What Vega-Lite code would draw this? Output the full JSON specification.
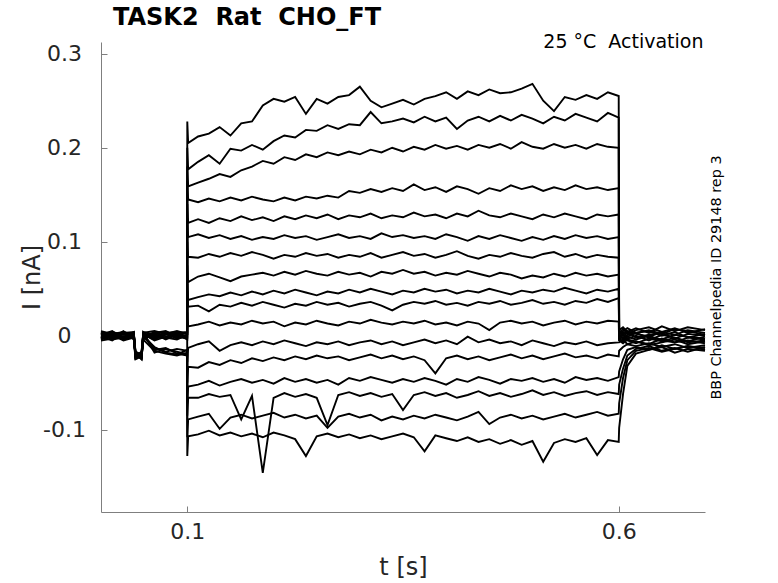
{
  "$schema": "https://vega.github.io/schema/vega-lite/v6.json",
  "width": 604,
  "height": 470,
  "autosize": "none",
  "padding": {"left": 101, "top": 42, "right": 73, "bottom": 71},
  "background": "white",
  "title": {
    "text": "TASK2\u00a0\u00a0Rat\u00a0\u00a0CHO_FT",
    "frame": "group",
    "anchor": "start",
    "dx": 12,
    "offset": 2,
    "fontSize": 24,
    "fontWeight": "bold",
    "font": "DejaVu Sans",
    "color": "black"
  },
  "config": {
    "view": {"stroke": null},
    "font": "DejaVu Sans",
    "axis": {
      "grid": false,
      "domainColor": "#7f7f7f",
      "tickColor": "#7f7f7f",
      "labelColor": "#262626",
      "titleColor": "#262626",
      "labelFont": "DejaVu Sans",
      "titleFont": "DejaVu Sans",
      "titleFontWeight": "normal"
    }
  },
  "data": {
    "values": [
      {"k":1,"t":0,"v":0.002},{"k":1,"t":0.013,"v":-0.003},{"k":1,"t":0.026,"v":0.004},{"k":1,"t":0.038,"v":0.001},{"k":1,"t":0.04,"v":-0.019},{"k":1,"t":0.047,"v":-0.022},{"k":1,"t":0.049,"v":0.003},{"k":1,"t":0.062,"v":-0.002},{"k":1,"t":0.075,"v":0.004},{"k":1,"t":0.088,"v":0.001},{"k":1,"t":0.0999,"v":0.003},
      {"k":1,"t":0.1,"v":0.228},{"k":1,"t":0.101,"v":0.205},
      {"k":1,"t":0.1125,"v":0.212},{"k":1,"t":0.125,"v":0.215},{"k":1,"t":0.1375,"v":0.222},{"k":1,"t":0.15,"v":0.213},{"k":1,"t":0.1625,"v":0.226},{"k":1,"t":0.175,"v":0.228},{"k":1,"t":0.1875,"v":0.245},{"k":1,"t":0.2,"v":0.252},{"k":1,"t":0.2125,"v":0.249},{"k":1,"t":0.225,"v":0.254},{"k":1,"t":0.2375,"v":0.236},{"k":1,"t":0.25,"v":0.252},{"k":1,"t":0.2625,"v":0.247},{"k":1,"t":0.275,"v":0.254},{"k":1,"t":0.2875,"v":0.256},{"k":1,"t":0.3,"v":0.265},{"k":1,"t":0.3125,"v":0.25},{"k":1,"t":0.325,"v":0.243},{"k":1,"t":0.3375,"v":0.247},{"k":1,"t":0.35,"v":0.251},{"k":1,"t":0.3625,"v":0.246},{"k":1,"t":0.375,"v":0.252},{"k":1,"t":0.3875,"v":0.255},{"k":1,"t":0.4,"v":0.259},{"k":1,"t":0.4125,"v":0.252},{"k":1,"t":0.425,"v":0.26},{"k":1,"t":0.4375,"v":0.256},{"k":1,"t":0.45,"v":0.262},{"k":1,"t":0.4625,"v":0.258},{"k":1,"t":0.475,"v":0.259},{"k":1,"t":0.4875,"v":0.263},{"k":1,"t":0.5,"v":0.268},{"k":1,"t":0.5125,"v":0.25},{"k":1,"t":0.525,"v":0.239},{"k":1,"t":0.5375,"v":0.254},{"k":1,"t":0.55,"v":0.251},{"k":1,"t":0.5625,"v":0.256},{"k":1,"t":0.575,"v":0.252},{"k":1,"t":0.5875,"v":0.259},{"k":1,"t":0.6,"v":0.255},
      {"k":1,"t":0.6005,"v":0.006},{"k":1,"t":0.605,"v":0.009},{"k":1,"t":0.61,"v":0.004},{"k":1,"t":0.62,"v":0.008},{"k":1,"t":0.635,"v":0.003},{"k":1,"t":0.65,"v":0.01},{"k":1,"t":0.665,"v":0.005},{"k":1,"t":0.68,"v":0.009},{"k":1,"t":0.7,"v":0.006},

      {"k":2,"t":0,"v":-0.002},{"k":2,"t":0.013,"v":0.003},{"k":2,"t":0.026,"v":-0.004},{"k":2,"t":0.038,"v":0.002},{"k":2,"t":0.04,"v":-0.023},{"k":2,"t":0.047,"v":-0.018},{"k":2,"t":0.049,"v":-0.001},{"k":2,"t":0.062,"v":0.004},{"k":2,"t":0.075,"v":-0.003},{"k":2,"t":0.088,"v":0.002},{"k":2,"t":0.0999,"v":-0.001},
      {"k":2,"t":0.1,"v":0.2},{"k":2,"t":0.101,"v":0.177},
      {"k":2,"t":0.1125,"v":0.185},{"k":2,"t":0.125,"v":0.192},{"k":2,"t":0.1375,"v":0.183},{"k":2,"t":0.15,"v":0.199},{"k":2,"t":0.1625,"v":0.197},{"k":2,"t":0.175,"v":0.203},{"k":2,"t":0.1875,"v":0.198},{"k":2,"t":0.2,"v":0.207},{"k":2,"t":0.2125,"v":0.213},{"k":2,"t":0.225,"v":0.211},{"k":2,"t":0.2375,"v":0.219},{"k":2,"t":0.25,"v":0.218},{"k":2,"t":0.2625,"v":0.224},{"k":2,"t":0.275,"v":0.22},{"k":2,"t":0.2875,"v":0.225},{"k":2,"t":0.3,"v":0.224},{"k":2,"t":0.3125,"v":0.238},{"k":2,"t":0.325,"v":0.226},{"k":2,"t":0.3375,"v":0.228},{"k":2,"t":0.35,"v":0.231},{"k":2,"t":0.3625,"v":0.227},{"k":2,"t":0.375,"v":0.233},{"k":2,"t":0.3875,"v":0.228},{"k":2,"t":0.4,"v":0.232},{"k":2,"t":0.4125,"v":0.22},{"k":2,"t":0.425,"v":0.229},{"k":2,"t":0.4375,"v":0.233},{"k":2,"t":0.45,"v":0.228},{"k":2,"t":0.4625,"v":0.234},{"k":2,"t":0.475,"v":0.229},{"k":2,"t":0.4875,"v":0.235},{"k":2,"t":0.5,"v":0.231},{"k":2,"t":0.5125,"v":0.226},{"k":2,"t":0.525,"v":0.233},{"k":2,"t":0.5375,"v":0.229},{"k":2,"t":0.55,"v":0.236},{"k":2,"t":0.5625,"v":0.232},{"k":2,"t":0.575,"v":0.228},{"k":2,"t":0.5875,"v":0.237},{"k":2,"t":0.6,"v":0.232},
      {"k":2,"t":0.6005,"v":0.003},{"k":2,"t":0.605,"v":0.007},{"k":2,"t":0.61,"v":0.002},{"k":2,"t":0.62,"v":0.006},{"k":2,"t":0.635,"v":0.009},{"k":2,"t":0.65,"v":0.004},{"k":2,"t":0.665,"v":0.008},{"k":2,"t":0.68,"v":0.003},{"k":2,"t":0.7,"v":0.007},

      {"k":3,"t":0,"v":0.004},{"k":3,"t":0.013,"v":-0.001},{"k":3,"t":0.026,"v":0.002},{"k":3,"t":0.038,"v":-0.003},{"k":3,"t":0.04,"v":-0.021},{"k":3,"t":0.047,"v":-0.024},{"k":3,"t":0.049,"v":0.001},{"k":3,"t":0.062,"v":-0.004},{"k":3,"t":0.075,"v":0.002},{"k":3,"t":0.088,"v":0.005},{"k":3,"t":0.0999,"v":0.002},
      {"k":3,"t":0.1,"v":0.18},{"k":3,"t":0.101,"v":0.159},
      {"k":3,"t":0.1125,"v":0.163},{"k":3,"t":0.125,"v":0.167},{"k":3,"t":0.1375,"v":0.172},{"k":3,"t":0.15,"v":0.169},{"k":3,"t":0.1625,"v":0.176},{"k":3,"t":0.175,"v":0.18},{"k":3,"t":0.1875,"v":0.186},{"k":3,"t":0.2,"v":0.183},{"k":3,"t":0.2125,"v":0.19},{"k":3,"t":0.225,"v":0.187},{"k":3,"t":0.2375,"v":0.193},{"k":3,"t":0.25,"v":0.19},{"k":3,"t":0.2625,"v":0.195},{"k":3,"t":0.275,"v":0.192},{"k":3,"t":0.2875,"v":0.196},{"k":3,"t":0.3,"v":0.193},{"k":3,"t":0.3125,"v":0.198},{"k":3,"t":0.325,"v":0.195},{"k":3,"t":0.3375,"v":0.2},{"k":3,"t":0.35,"v":0.196},{"k":3,"t":0.3625,"v":0.201},{"k":3,"t":0.375,"v":0.198},{"k":3,"t":0.3875,"v":0.203},{"k":3,"t":0.4,"v":0.199},{"k":3,"t":0.4125,"v":0.202},{"k":3,"t":0.425,"v":0.198},{"k":3,"t":0.4375,"v":0.203},{"k":3,"t":0.45,"v":0.2},{"k":3,"t":0.4625,"v":0.204},{"k":3,"t":0.475,"v":0.199},{"k":3,"t":0.4875,"v":0.206},{"k":3,"t":0.5,"v":0.201},{"k":3,"t":0.5125,"v":0.199},{"k":3,"t":0.525,"v":0.204},{"k":3,"t":0.5375,"v":0.2},{"k":3,"t":0.55,"v":0.203},{"k":3,"t":0.5625,"v":0.199},{"k":3,"t":0.575,"v":0.204},{"k":3,"t":0.5875,"v":0.201},{"k":3,"t":0.6,"v":0.2},
      {"k":3,"t":0.6005,"v":0.002},{"k":3,"t":0.605,"v":0.005},{"k":3,"t":0.61,"v":0.008},{"k":3,"t":0.62,"v":0.003},{"k":3,"t":0.635,"v":0.006},{"k":3,"t":0.65,"v":0.002},{"k":3,"t":0.665,"v":0.007},{"k":3,"t":0.68,"v":0.005},{"k":3,"t":0.7,"v":0.001},

      {"k":4,"t":0,"v":-0.004},{"k":4,"t":0.013,"v":0.001},{"k":4,"t":0.026,"v":-0.002},{"k":4,"t":0.038,"v":0.003},{"k":4,"t":0.04,"v":-0.017},{"k":4,"t":0.047,"v":-0.02},{"k":4,"t":0.049,"v":0.004},{"k":4,"t":0.062,"v":0.001},{"k":4,"t":0.075,"v":-0.002},{"k":4,"t":0.088,"v":-0.004},{"k":4,"t":0.0999,"v":0.001},
      {"k":4,"t":0.1,"v":0.165},{"k":4,"t":0.101,"v":0.145},
      {"k":4,"t":0.1125,"v":0.142},{"k":4,"t":0.125,"v":0.146},{"k":4,"t":0.1375,"v":0.143},{"k":4,"t":0.15,"v":0.147},{"k":4,"t":0.1625,"v":0.144},{"k":4,"t":0.175,"v":0.148},{"k":4,"t":0.1875,"v":0.145},{"k":4,"t":0.2,"v":0.143},{"k":4,"t":0.2125,"v":0.147},{"k":4,"t":0.225,"v":0.144},{"k":4,"t":0.2375,"v":0.148},{"k":4,"t":0.25,"v":0.146},{"k":4,"t":0.2625,"v":0.149},{"k":4,"t":0.275,"v":0.147},{"k":4,"t":0.2875,"v":0.154},{"k":4,"t":0.3,"v":0.152},{"k":4,"t":0.3125,"v":0.156},{"k":4,"t":0.325,"v":0.153},{"k":4,"t":0.3375,"v":0.157},{"k":4,"t":0.35,"v":0.154},{"k":4,"t":0.3625,"v":0.161},{"k":4,"t":0.375,"v":0.155},{"k":4,"t":0.3875,"v":0.158},{"k":4,"t":0.4,"v":0.153},{"k":4,"t":0.4125,"v":0.159},{"k":4,"t":0.425,"v":0.156},{"k":4,"t":0.4375,"v":0.151},{"k":4,"t":0.45,"v":0.157},{"k":4,"t":0.4625,"v":0.154},{"k":4,"t":0.475,"v":0.16},{"k":4,"t":0.4875,"v":0.156},{"k":4,"t":0.5,"v":0.159},{"k":4,"t":0.5125,"v":0.154},{"k":4,"t":0.525,"v":0.158},{"k":4,"t":0.5375,"v":0.155},{"k":4,"t":0.55,"v":0.16},{"k":4,"t":0.5625,"v":0.156},{"k":4,"t":0.575,"v":0.158},{"k":4,"t":0.5875,"v":0.155},{"k":4,"t":0.6,"v":0.157},
      {"k":4,"t":0.6005,"v":0.004},{"k":4,"t":0.605,"v":0.001},{"k":4,"t":0.61,"v":0.005},{"k":4,"t":0.62,"v":0.002},{"k":4,"t":0.635,"v":-0.001},{"k":4,"t":0.65,"v":0.004},{"k":4,"t":0.665,"v":0.001},{"k":4,"t":0.68,"v":0.006},{"k":4,"t":0.7,"v":0.003},

      {"k":5,"t":0,"v":0.001},{"k":5,"t":0.013,"v":0.005},{"k":5,"t":0.026,"v":-0.003},{"k":5,"t":0.038,"v":-0.001},{"k":5,"t":0.04,"v":-0.024},{"k":5,"t":0.047,"v":-0.021},{"k":5,"t":0.049,"v":-0.003},{"k":5,"t":0.062,"v":0.003},{"k":5,"t":0.075,"v":0.005},{"k":5,"t":0.088,"v":-0.001},{"k":5,"t":0.0999,"v":-0.003},
      {"k":5,"t":0.1,"v":0.14},{"k":5,"t":0.101,"v":0.12},
      {"k":5,"t":0.1125,"v":0.124},{"k":5,"t":0.125,"v":0.12},{"k":5,"t":0.1375,"v":0.125},{"k":5,"t":0.15,"v":0.122},{"k":5,"t":0.1625,"v":0.127},{"k":5,"t":0.175,"v":0.123},{"k":5,"t":0.1875,"v":0.126},{"k":5,"t":0.2,"v":0.122},{"k":5,"t":0.2125,"v":0.127},{"k":5,"t":0.225,"v":0.124},{"k":5,"t":0.2375,"v":0.128},{"k":5,"t":0.25,"v":0.125},{"k":5,"t":0.2625,"v":0.129},{"k":5,"t":0.275,"v":0.124},{"k":5,"t":0.2875,"v":0.128},{"k":5,"t":0.3,"v":0.126},{"k":5,"t":0.3125,"v":0.13},{"k":5,"t":0.325,"v":0.125},{"k":5,"t":0.3375,"v":0.128},{"k":5,"t":0.35,"v":0.126},{"k":5,"t":0.3625,"v":0.131},{"k":5,"t":0.375,"v":0.127},{"k":5,"t":0.3875,"v":0.129},{"k":5,"t":0.4,"v":0.125},{"k":5,"t":0.4125,"v":0.13},{"k":5,"t":0.425,"v":0.127},{"k":5,"t":0.4375,"v":0.133},{"k":5,"t":0.45,"v":0.128},{"k":5,"t":0.4625,"v":0.126},{"k":5,"t":0.475,"v":0.13},{"k":5,"t":0.4875,"v":0.127},{"k":5,"t":0.5,"v":0.124},{"k":5,"t":0.5125,"v":0.129},{"k":5,"t":0.525,"v":0.126},{"k":5,"t":0.5375,"v":0.13},{"k":5,"t":0.55,"v":0.127},{"k":5,"t":0.5625,"v":0.124},{"k":5,"t":0.575,"v":0.129},{"k":5,"t":0.5875,"v":0.127},{"k":5,"t":0.6,"v":0.129},
      {"k":5,"t":0.6005,"v":0.001},{"k":5,"t":0.605,"v":0.004},{"k":5,"t":0.61,"v":-0.001},{"k":5,"t":0.62,"v":0.003},{"k":5,"t":0.635,"v":0.005},{"k":5,"t":0.65,"v":0},{"k":5,"t":0.665,"v":0.004},{"k":5,"t":0.68,"v":-0.002},{"k":5,"t":0.7,"v":0.002},

      {"k":6,"t":0,"v":-0.001},{"k":6,"t":0.013,"v":-0.005},{"k":6,"t":0.026,"v":0.003},{"k":6,"t":0.038,"v":0.004},{"k":6,"t":0.04,"v":-0.02},{"k":6,"t":0.047,"v":-0.025},{"k":6,"t":0.049,"v":0.002},{"k":6,"t":0.062,"v":-0.003},{"k":6,"t":0.075,"v":0.001},{"k":6,"t":0.088,"v":0.003},{"k":6,"t":0.0999,"v":0.004},
      {"k":6,"t":0.1,"v":0.125},{"k":6,"t":0.101,"v":0.105},
      {"k":6,"t":0.1125,"v":0.108},{"k":6,"t":0.125,"v":0.104},{"k":6,"t":0.1375,"v":0.107},{"k":6,"t":0.15,"v":0.103},{"k":6,"t":0.1625,"v":0.106},{"k":6,"t":0.175,"v":0.102},{"k":6,"t":0.1875,"v":0.105},{"k":6,"t":0.2,"v":0.103},{"k":6,"t":0.2125,"v":0.107},{"k":6,"t":0.225,"v":0.104},{"k":6,"t":0.2375,"v":0.106},{"k":6,"t":0.25,"v":0.102},{"k":6,"t":0.2625,"v":0.105},{"k":6,"t":0.275,"v":0.108},{"k":6,"t":0.2875,"v":0.104},{"k":6,"t":0.3,"v":0.106},{"k":6,"t":0.3125,"v":0.103},{"k":6,"t":0.325,"v":0.109},{"k":6,"t":0.3375,"v":0.105},{"k":6,"t":0.35,"v":0.107},{"k":6,"t":0.3625,"v":0.104},{"k":6,"t":0.375,"v":0.106},{"k":6,"t":0.3875,"v":0.103},{"k":6,"t":0.4,"v":0.108},{"k":6,"t":0.4125,"v":0.105},{"k":6,"t":0.425,"v":0.101},{"k":6,"t":0.4375,"v":0.106},{"k":6,"t":0.45,"v":0.103},{"k":6,"t":0.4625,"v":0.107},{"k":6,"t":0.475,"v":0.104},{"k":6,"t":0.4875,"v":0.101},{"k":6,"t":0.5,"v":0.105},{"k":6,"t":0.5125,"v":0.102},{"k":6,"t":0.525,"v":0.106},{"k":6,"t":0.5375,"v":0.103},{"k":6,"t":0.55,"v":0.107},{"k":6,"t":0.5625,"v":0.104},{"k":6,"t":0.575,"v":0.106},{"k":6,"t":0.5875,"v":0.103},{"k":6,"t":0.6,"v":0.105},
      {"k":6,"t":0.6005,"v":-0.001},{"k":6,"t":0.605,"v":0.002},{"k":6,"t":0.61,"v":0.004},{"k":6,"t":0.62,"v":-0.002},{"k":6,"t":0.635,"v":0.001},{"k":6,"t":0.65,"v":0.003},{"k":6,"t":0.665,"v":-0.003},{"k":6,"t":0.68,"v":0.002},{"k":6,"t":0.7,"v":0},

      {"k":7,"t":0,"v":0.003},{"k":7,"t":0.013,"v":0.001},{"k":7,"t":0.026,"v":-0.005},{"k":7,"t":0.038,"v":-0.002},{"k":7,"t":0.04,"v":-0.022},{"k":7,"t":0.047,"v":-0.019},{"k":7,"t":0.049,"v":-0.004},{"k":7,"t":0.062,"v":0.002},{"k":7,"t":0.075,"v":-0.004},{"k":7,"t":0.088,"v":0.001},{"k":7,"t":0.0999,"v":-0.002},
      {"k":7,"t":0.1,"v":0.1},{"k":7,"t":0.101,"v":0.084},
      {"k":7,"t":0.1125,"v":0.083},{"k":7,"t":0.125,"v":0.087},{"k":7,"t":0.1375,"v":0.084},{"k":7,"t":0.15,"v":0.088},{"k":7,"t":0.1625,"v":0.085},{"k":7,"t":0.175,"v":0.089},{"k":7,"t":0.1875,"v":0.086},{"k":7,"t":0.2,"v":0.082},{"k":7,"t":0.2125,"v":0.086},{"k":7,"t":0.225,"v":0.084},{"k":7,"t":0.2375,"v":0.088},{"k":7,"t":0.25,"v":0.085},{"k":7,"t":0.2625,"v":0.087},{"k":7,"t":0.275,"v":0.083},{"k":7,"t":0.2875,"v":0.086},{"k":7,"t":0.3,"v":0.084},{"k":7,"t":0.3125,"v":0.088},{"k":7,"t":0.325,"v":0.083},{"k":7,"t":0.3375,"v":0.086},{"k":7,"t":0.35,"v":0.089},{"k":7,"t":0.3625,"v":0.085},{"k":7,"t":0.375,"v":0.087},{"k":7,"t":0.3875,"v":0.083},{"k":7,"t":0.4,"v":0.086},{"k":7,"t":0.4125,"v":0.09},{"k":7,"t":0.425,"v":0.085},{"k":7,"t":0.4375,"v":0.082},{"k":7,"t":0.45,"v":0.086},{"k":7,"t":0.4625,"v":0.084},{"k":7,"t":0.475,"v":0.088},{"k":7,"t":0.4875,"v":0.085},{"k":7,"t":0.5,"v":0.083},{"k":7,"t":0.5125,"v":0.087},{"k":7,"t":0.525,"v":0.089},{"k":7,"t":0.5375,"v":0.084},{"k":7,"t":0.55,"v":0.087},{"k":7,"t":0.5625,"v":0.083},{"k":7,"t":0.575,"v":0.086},{"k":7,"t":0.5875,"v":0.084},{"k":7,"t":0.6,"v":0.083},
      {"k":7,"t":0.6005,"v":0},{"k":7,"t":0.605,"v":-0.003},{"k":7,"t":0.61,"v":0.001},{"k":7,"t":0.62,"v":0.003},{"k":7,"t":0.635,"v":-0.002},{"k":7,"t":0.65,"v":-0.004},{"k":7,"t":0.665,"v":0.001},{"k":7,"t":0.68,"v":-0.001},{"k":7,"t":0.7,"v":-0.003},

      {"k":8,"t":0,"v":-0.003},{"k":8,"t":0.013,"v":0.004},{"k":8,"t":0.026,"v":0.001},{"k":8,"t":0.038,"v":0.002},{"k":8,"t":0.04,"v":-0.018},{"k":8,"t":0.047,"v":-0.023},{"k":8,"t":0.049,"v":0.003},{"k":8,"t":0.062,"v":0.005},{"k":8,"t":0.075,"v":0.002},{"k":8,"t":0.088,"v":-0.003},{"k":8,"t":0.0999,"v":0},
      {"k":8,"t":0.1,"v":0.075},{"k":8,"t":0.101,"v":0.057},
      {"k":8,"t":0.1125,"v":0.063},{"k":8,"t":0.125,"v":0.066},{"k":8,"t":0.1375,"v":0.062},{"k":8,"t":0.15,"v":0.058},{"k":8,"t":0.1625,"v":0.063},{"k":8,"t":0.175,"v":0.065},{"k":8,"t":0.1875,"v":0.067},{"k":8,"t":0.2,"v":0.064},{"k":8,"t":0.2125,"v":0.068},{"k":8,"t":0.225,"v":0.065},{"k":8,"t":0.2375,"v":0.069},{"k":8,"t":0.25,"v":0.066},{"k":8,"t":0.2625,"v":0.064},{"k":8,"t":0.275,"v":0.068},{"k":8,"t":0.2875,"v":0.065},{"k":8,"t":0.3,"v":0.067},{"k":8,"t":0.3125,"v":0.063},{"k":8,"t":0.325,"v":0.068},{"k":8,"t":0.3375,"v":0.066},{"k":8,"t":0.35,"v":0.07},{"k":8,"t":0.3625,"v":0.066},{"k":8,"t":0.375,"v":0.068},{"k":8,"t":0.3875,"v":0.064},{"k":8,"t":0.4,"v":0.067},{"k":8,"t":0.4125,"v":0.065},{"k":8,"t":0.425,"v":0.069},{"k":8,"t":0.4375,"v":0.066},{"k":8,"t":0.45,"v":0.063},{"k":8,"t":0.4625,"v":0.067},{"k":8,"t":0.475,"v":0.065},{"k":8,"t":0.4875,"v":0.061},{"k":8,"t":0.5,"v":0.064},{"k":8,"t":0.5125,"v":0.062},{"k":8,"t":0.525,"v":0.066},{"k":8,"t":0.5375,"v":0.063},{"k":8,"t":0.55,"v":0.067},{"k":8,"t":0.5625,"v":0.064},{"k":8,"t":0.575,"v":0.066},{"k":8,"t":0.5875,"v":0.063},{"k":8,"t":0.6,"v":0.065},
      {"k":8,"t":0.6005,"v":-0.002},{"k":8,"t":0.605,"v":0.001},{"k":8,"t":0.61,"v":-0.003},{"k":8,"t":0.62,"v":0},{"k":8,"t":0.635,"v":-0.005},{"k":8,"t":0.65,"v":0.001},{"k":8,"t":0.665,"v":-0.002},{"k":8,"t":0.68,"v":-0.006},{"k":8,"t":0.7,"v":-0.001},

      {"k":9,"t":0,"v":0},{"k":9,"t":0.013,"v":-0.002},{"k":9,"t":0.026,"v":0.005},{"k":9,"t":0.038,"v":-0.004},{"k":9,"t":0.04,"v":-0.025},{"k":9,"t":0.047,"v":-0.022},{"k":9,"t":0.049,"v":0},{"k":9,"t":0.062,"v":-0.001},{"k":9,"t":0.075,"v":0.003},{"k":9,"t":0.088,"v":0.004},{"k":9,"t":0.0999,"v":0.002},
      {"k":9,"t":0.1,"v":0.055},{"k":9,"t":0.101,"v":0.038},
      {"k":9,"t":0.1125,"v":0.041},{"k":9,"t":0.125,"v":0.044},{"k":9,"t":0.1375,"v":0.042},{"k":9,"t":0.15,"v":0.046},{"k":9,"t":0.1625,"v":0.043},{"k":9,"t":0.175,"v":0.047},{"k":9,"t":0.1875,"v":0.044},{"k":9,"t":0.2,"v":0.048},{"k":9,"t":0.2125,"v":0.045},{"k":9,"t":0.225,"v":0.049},{"k":9,"t":0.2375,"v":0.046},{"k":9,"t":0.25,"v":0.043},{"k":9,"t":0.2625,"v":0.047},{"k":9,"t":0.275,"v":0.045},{"k":9,"t":0.2875,"v":0.049},{"k":9,"t":0.3,"v":0.046},{"k":9,"t":0.3125,"v":0.05},{"k":9,"t":0.325,"v":0.047},{"k":9,"t":0.3375,"v":0.044},{"k":9,"t":0.35,"v":0.048},{"k":9,"t":0.3625,"v":0.046},{"k":9,"t":0.375,"v":0.05},{"k":9,"t":0.3875,"v":0.047},{"k":9,"t":0.4,"v":0.049},{"k":9,"t":0.4125,"v":0.045},{"k":9,"t":0.425,"v":0.048},{"k":9,"t":0.4375,"v":0.046},{"k":9,"t":0.45,"v":0.05},{"k":9,"t":0.4625,"v":0.047},{"k":9,"t":0.475,"v":0.044},{"k":9,"t":0.4875,"v":0.048},{"k":9,"t":0.5,"v":0.046},{"k":9,"t":0.5125,"v":0.049},{"k":9,"t":0.525,"v":0.047},{"k":9,"t":0.5375,"v":0.051},{"k":9,"t":0.55,"v":0.048},{"k":9,"t":0.5625,"v":0.045},{"k":9,"t":0.575,"v":0.049},{"k":9,"t":0.5875,"v":0.047},{"k":9,"t":0.6,"v":0.05},
      {"k":9,"t":0.6005,"v":-0.003},{"k":9,"t":0.605,"v":-0.006},{"k":9,"t":0.61,"v":-0.001},{"k":9,"t":0.62,"v":-0.004},{"k":9,"t":0.635,"v":0},{"k":9,"t":0.65,"v":-0.005},{"k":9,"t":0.665,"v":-0.007},{"k":9,"t":0.68,"v":-0.002},{"k":9,"t":0.7,"v":-0.004},

      {"k":10,"t":0,"v":0.005},{"k":10,"t":0.013,"v":0.002},{"k":10,"t":0.026,"v":-0.001},{"k":10,"t":0.038,"v":0.001},{"k":10,"t":0.04,"v":-0.021},{"k":10,"t":0.047,"v":-0.017},{"k":10,"t":0.049,"v":0.002},{"k":10,"t":0.062,"v":-0.005},{"k":10,"t":0.075,"v":-0.001},{"k":10,"t":0.088,"v":0.002},{"k":10,"t":0.0999,"v":-0.004},
      {"k":10,"t":0.1,"v":0.048},{"k":10,"t":0.101,"v":0.031},
      {"k":10,"t":0.1125,"v":0.032},{"k":10,"t":0.125,"v":0.026},{"k":10,"t":0.1375,"v":0.033},{"k":10,"t":0.15,"v":0.031},{"k":10,"t":0.1625,"v":0.035},{"k":10,"t":0.175,"v":0.032},{"k":10,"t":0.1875,"v":0.036},{"k":10,"t":0.2,"v":0.033},{"k":10,"t":0.2125,"v":0.03},{"k":10,"t":0.225,"v":0.034},{"k":10,"t":0.2375,"v":0.032},{"k":10,"t":0.25,"v":0.036},{"k":10,"t":0.2625,"v":0.033},{"k":10,"t":0.275,"v":0.035},{"k":10,"t":0.2875,"v":0.031},{"k":10,"t":0.3,"v":0.034},{"k":10,"t":0.3125,"v":0.036},{"k":10,"t":0.325,"v":0.032},{"k":10,"t":0.3375,"v":0.027},{"k":10,"t":0.35,"v":0.033},{"k":10,"t":0.3625,"v":0.036},{"k":10,"t":0.375,"v":0.034},{"k":10,"t":0.3875,"v":0.037},{"k":10,"t":0.4,"v":0.033},{"k":10,"t":0.4125,"v":0.035},{"k":10,"t":0.425,"v":0.032},{"k":10,"t":0.4375,"v":0.036},{"k":10,"t":0.45,"v":0.034},{"k":10,"t":0.4625,"v":0.037},{"k":10,"t":0.475,"v":0.033},{"k":10,"t":0.4875,"v":0.035},{"k":10,"t":0.5,"v":0.038},{"k":10,"t":0.5125,"v":0.034},{"k":10,"t":0.525,"v":0.036},{"k":10,"t":0.5375,"v":0.033},{"k":10,"t":0.55,"v":0.037},{"k":10,"t":0.5625,"v":0.035},{"k":10,"t":0.575,"v":0.039},{"k":10,"t":0.5875,"v":0.036},{"k":10,"t":0.6,"v":0.04},
      {"k":10,"t":0.6005,"v":-0.004},{"k":10,"t":0.605,"v":-0.001},{"k":10,"t":0.61,"v":-0.005},{"k":10,"t":0.62,"v":-0.008},{"k":10,"t":0.635,"v":-0.003},{"k":10,"t":0.65,"v":-0.006},{"k":10,"t":0.665,"v":-0.002},{"k":10,"t":0.68,"v":-0.007},{"k":10,"t":0.7,"v":-0.005},

      {"k":11,"t":0,"v":-0.005},{"k":11,"t":0.013,"v":-0.003},{"k":11,"t":0.026,"v":0.002},{"k":11,"t":0.038,"v":-0.001},{"k":11,"t":0.04,"v":-0.019},{"k":11,"t":0.047,"v":-0.024},{"k":11,"t":0.049,"v":-0.002},{"k":11,"t":0.062,"v":0.002},{"k":11,"t":0.075,"v":0.004},{"k":11,"t":0.088,"v":-0.002},{"k":11,"t":0.0999,"v":0.001},
      {"k":11,"t":0.1,"v":0.025},{"k":11,"t":0.101,"v":0.01},
      {"k":11,"t":0.1125,"v":0.012},{"k":11,"t":0.125,"v":0.015},{"k":11,"t":0.1375,"v":0.011},{"k":11,"t":0.15,"v":0.014},{"k":11,"t":0.1625,"v":0.012},{"k":11,"t":0.175,"v":0.016},{"k":11,"t":0.1875,"v":0.013},{"k":11,"t":0.2,"v":0.015},{"k":11,"t":0.2125,"v":0.01},{"k":11,"t":0.225,"v":0.014},{"k":11,"t":0.2375,"v":0.012},{"k":11,"t":0.25,"v":0.016},{"k":11,"t":0.2625,"v":0.013},{"k":11,"t":0.275,"v":0.011},{"k":11,"t":0.2875,"v":0.015},{"k":11,"t":0.3,"v":0.013},{"k":11,"t":0.3125,"v":0.017},{"k":11,"t":0.325,"v":0.014},{"k":11,"t":0.3375,"v":0.012},{"k":11,"t":0.35,"v":0.015},{"k":11,"t":0.3625,"v":0.013},{"k":11,"t":0.375,"v":0.016},{"k":11,"t":0.3875,"v":0.012},{"k":11,"t":0.4,"v":0.014},{"k":11,"t":0.4125,"v":0.011},{"k":11,"t":0.425,"v":0.015},{"k":11,"t":0.4375,"v":0.013},{"k":11,"t":0.45,"v":0.006},{"k":11,"t":0.4625,"v":0.014},{"k":11,"t":0.475,"v":0.016},{"k":11,"t":0.4875,"v":0.013},{"k":11,"t":0.5,"v":0.015},{"k":11,"t":0.5125,"v":0.011},{"k":11,"t":0.525,"v":0.014},{"k":11,"t":0.5375,"v":0.016},{"k":11,"t":0.55,"v":0.012},{"k":11,"t":0.5625,"v":0.015},{"k":11,"t":0.575,"v":0.013},{"k":11,"t":0.5875,"v":0.016},{"k":11,"t":0.6,"v":0.015},
      {"k":11,"t":0.6005,"v":-0.005},{"k":11,"t":0.605,"v":-0.008},{"k":11,"t":0.61,"v":-0.004},{"k":11,"t":0.62,"v":-0.006},{"k":11,"t":0.635,"v":-0.009},{"k":11,"t":0.65,"v":-0.003},{"k":11,"t":0.665,"v":-0.007},{"k":11,"t":0.68,"v":-0.005},{"k":11,"t":0.7,"v":-0.008},

      {"k":12,"t":0,"v":0.002},{"k":12,"t":0.013,"v":0.004},{"k":12,"t":0.026,"v":-0.004},{"k":12,"t":0.038,"v":0.003},{"k":12,"t":0.04,"v":-0.023},{"k":12,"t":0.047,"v":-0.02},{"k":12,"t":0.049,"v":0.001},{"k":12,"t":0.062,"v":-0.013},{"k":12,"t":0.075,"v":-0.017},{"k":12,"t":0.088,"v":-0.014},{"k":12,"t":0.0999,"v":-0.016},
      {"k":12,"t":0.1,"v":-0.028},{"k":12,"t":0.101,"v":-0.013},
      {"k":12,"t":0.1125,"v":-0.009},{"k":12,"t":0.125,"v":-0.006},{"k":12,"t":0.1375,"v":-0.016},{"k":12,"t":0.15,"v":-0.01},{"k":12,"t":0.1625,"v":-0.007},{"k":12,"t":0.175,"v":-0.01},{"k":12,"t":0.1875,"v":-0.006},{"k":12,"t":0.2,"v":-0.009},{"k":12,"t":0.2125,"v":-0.005},{"k":12,"t":0.225,"v":-0.008},{"k":12,"t":0.2375,"v":-0.011},{"k":12,"t":0.25,"v":-0.007},{"k":12,"t":0.2625,"v":-0.009},{"k":12,"t":0.275,"v":-0.006},{"k":12,"t":0.2875,"v":-0.01},{"k":12,"t":0.3,"v":-0.007},{"k":12,"t":0.3125,"v":-0.005},{"k":12,"t":0.325,"v":-0.009},{"k":12,"t":0.3375,"v":-0.006},{"k":12,"t":0.35,"v":-0.01},{"k":12,"t":0.3625,"v":-0.007},{"k":12,"t":0.375,"v":-0.004},{"k":12,"t":0.3875,"v":-0.008},{"k":12,"t":0.4,"v":-0.005},{"k":12,"t":0.4125,"v":-0.009},{"k":12,"t":0.425,"v":-0.001},{"k":12,"t":0.4375,"v":-0.007},{"k":12,"t":0.45,"v":-0.004},{"k":12,"t":0.4625,"v":-0.008},{"k":12,"t":0.475,"v":-0.006},{"k":12,"t":0.4875,"v":-0.01},{"k":12,"t":0.5,"v":-0.005},{"k":12,"t":0.5125,"v":-0.008},{"k":12,"t":0.525,"v":-0.011},{"k":12,"t":0.5375,"v":-0.007},{"k":12,"t":0.55,"v":-0.009},{"k":12,"t":0.5625,"v":-0.006},{"k":12,"t":0.575,"v":-0.01},{"k":12,"t":0.5875,"v":-0.008},{"k":12,"t":0.6,"v":-0.007},
      {"k":12,"t":0.6005,"v":-0.007},{"k":12,"t":0.605,"v":-0.004},{"k":12,"t":0.61,"v":-0.009},{"k":12,"t":0.62,"v":-0.006},{"k":12,"t":0.635,"v":-0.01},{"k":12,"t":0.65,"v":-0.007},{"k":12,"t":0.665,"v":-0.004},{"k":12,"t":0.68,"v":-0.009},{"k":12,"t":0.7,"v":-0.006},

      {"k":13,"t":0,"v":-0.002},{"k":13,"t":0.013,"v":0},{"k":13,"t":0.026,"v":0.003},{"k":13,"t":0.038,"v":-0.003},{"k":13,"t":0.04,"v":-0.02},{"k":13,"t":0.047,"v":-0.023},{"k":13,"t":0.049,"v":-0.004},{"k":13,"t":0.062,"v":-0.016},{"k":13,"t":0.075,"v":-0.019},{"k":13,"t":0.088,"v":-0.021},{"k":13,"t":0.0999,"v":-0.018},
      {"k":13,"t":0.1,"v":-0.05},{"k":13,"t":0.101,"v":-0.033},
      {"k":13,"t":0.1125,"v":-0.034},{"k":13,"t":0.125,"v":-0.028},{"k":13,"t":0.1375,"v":-0.031},{"k":13,"t":0.15,"v":-0.026},{"k":13,"t":0.1625,"v":-0.029},{"k":13,"t":0.175,"v":-0.024},{"k":13,"t":0.1875,"v":-0.027},{"k":13,"t":0.2,"v":-0.023},{"k":13,"t":0.2125,"v":-0.026},{"k":13,"t":0.225,"v":-0.022},{"k":13,"t":0.2375,"v":-0.025},{"k":13,"t":0.25,"v":-0.021},{"k":13,"t":0.2625,"v":-0.024},{"k":13,"t":0.275,"v":-0.022},{"k":13,"t":0.2875,"v":-0.026},{"k":13,"t":0.3,"v":-0.023},{"k":13,"t":0.3125,"v":-0.02},{"k":13,"t":0.325,"v":-0.024},{"k":13,"t":0.3375,"v":-0.021},{"k":13,"t":0.35,"v":-0.025},{"k":13,"t":0.3625,"v":-0.022},{"k":13,"t":0.375,"v":-0.026},{"k":13,"t":0.3875,"v":-0.04},{"k":13,"t":0.4,"v":-0.024},{"k":13,"t":0.4125,"v":-0.021},{"k":13,"t":0.425,"v":-0.025},{"k":13,"t":0.4375,"v":-0.022},{"k":13,"t":0.45,"v":-0.026},{"k":13,"t":0.4625,"v":-0.023},{"k":13,"t":0.475,"v":-0.02},{"k":13,"t":0.4875,"v":-0.024},{"k":13,"t":0.5,"v":-0.021},{"k":13,"t":0.5125,"v":-0.025},{"k":13,"t":0.525,"v":-0.022},{"k":13,"t":0.5375,"v":-0.019},{"k":13,"t":0.55,"v":-0.023},{"k":13,"t":0.5625,"v":-0.021},{"k":13,"t":0.575,"v":-0.024},{"k":13,"t":0.5875,"v":-0.02},{"k":13,"t":0.6,"v":-0.022},
      {"k":13,"t":0.6005,"v":-0.016},{"k":13,"t":0.605,"v":-0.012},{"k":13,"t":0.61,"v":-0.009},{"k":13,"t":0.62,"v":-0.011},{"k":13,"t":0.635,"v":-0.008},{"k":13,"t":0.65,"v":-0.012},{"k":13,"t":0.665,"v":-0.009},{"k":13,"t":0.68,"v":-0.013},{"k":13,"t":0.7,"v":-0.01},

      {"k":14,"t":0,"v":0.003},{"k":14,"t":0.013,"v":-0.004},{"k":14,"t":0.026,"v":-0.002},{"k":14,"t":0.038,"v":0.004},{"k":14,"t":0.04,"v":-0.024},{"k":14,"t":0.047,"v":-0.018},{"k":14,"t":0.049,"v":0.003},{"k":14,"t":0.062,"v":-0.018},{"k":14,"t":0.075,"v":-0.014},{"k":14,"t":0.088,"v":-0.017},{"k":14,"t":0.0999,"v":-0.02},
      {"k":14,"t":0.1,"v":-0.072},{"k":14,"t":0.101,"v":-0.054},
      {"k":14,"t":0.1125,"v":-0.052},{"k":14,"t":0.125,"v":-0.048},{"k":14,"t":0.1375,"v":-0.053},{"k":14,"t":0.15,"v":-0.049},{"k":14,"t":0.1625,"v":-0.046},{"k":14,"t":0.175,"v":-0.05},{"k":14,"t":0.1875,"v":-0.047},{"k":14,"t":0.2,"v":-0.051},{"k":14,"t":0.2125,"v":-0.045},{"k":14,"t":0.225,"v":-0.049},{"k":14,"t":0.2375,"v":-0.046},{"k":14,"t":0.25,"v":-0.05},{"k":14,"t":0.2625,"v":-0.047},{"k":14,"t":0.275,"v":-0.052},{"k":14,"t":0.2875,"v":-0.045},{"k":14,"t":0.3,"v":-0.048},{"k":14,"t":0.3125,"v":-0.044},{"k":14,"t":0.325,"v":-0.047},{"k":14,"t":0.3375,"v":-0.05},{"k":14,"t":0.35,"v":-0.046},{"k":14,"t":0.3625,"v":-0.049},{"k":14,"t":0.375,"v":-0.045},{"k":14,"t":0.3875,"v":-0.048},{"k":14,"t":0.4,"v":-0.052},{"k":14,"t":0.4125,"v":-0.046},{"k":14,"t":0.425,"v":-0.049},{"k":14,"t":0.4375,"v":-0.044},{"k":14,"t":0.45,"v":-0.047},{"k":14,"t":0.4625,"v":-0.051},{"k":14,"t":0.475,"v":-0.046},{"k":14,"t":0.4875,"v":-0.048},{"k":14,"t":0.5,"v":-0.045},{"k":14,"t":0.5125,"v":-0.049},{"k":14,"t":0.525,"v":-0.046},{"k":14,"t":0.5375,"v":-0.05},{"k":14,"t":0.55,"v":-0.044},{"k":14,"t":0.5625,"v":-0.047},{"k":14,"t":0.575,"v":-0.045},{"k":14,"t":0.5875,"v":-0.048},{"k":14,"t":0.6,"v":-0.044},
      {"k":14,"t":0.6005,"v":-0.038},{"k":14,"t":0.605,"v":-0.025},{"k":14,"t":0.61,"v":-0.015},{"k":14,"t":0.62,"v":-0.012},{"k":14,"t":0.635,"v":-0.015},{"k":14,"t":0.65,"v":-0.01},{"k":14,"t":0.665,"v":-0.014},{"k":14,"t":0.68,"v":-0.011},{"k":14,"t":0.7,"v":-0.013},

      {"k":15,"t":0,"v":-0.001},{"k":15,"t":0.013,"v":0.002},{"k":15,"t":0.026,"v":0.004},{"k":15,"t":0.038,"v":0},{"k":15,"t":0.04,"v":-0.018},{"k":15,"t":0.047,"v":-0.025},{"k":15,"t":0.049,"v":-0.001},{"k":15,"t":0.062,"v":-0.012},{"k":15,"t":0.075,"v":-0.018},{"k":15,"t":0.088,"v":-0.02},{"k":15,"t":0.0999,"v":-0.015},
      {"k":15,"t":0.1,"v":-0.085},{"k":15,"t":0.101,"v":-0.066},
      {"k":15,"t":0.1125,"v":-0.066},{"k":15,"t":0.125,"v":-0.062},{"k":15,"t":0.1375,"v":-0.065},{"k":15,"t":0.15,"v":-0.063},{"k":15,"t":0.1625,"v":-0.089},{"k":15,"t":0.175,"v":-0.064},{"k":15,"t":0.1875,"v":-0.146},{"k":15,"t":0.2,"v":-0.066},{"k":15,"t":0.2125,"v":-0.061},{"k":15,"t":0.225,"v":-0.065},{"k":15,"t":0.2375,"v":-0.062},{"k":15,"t":0.25,"v":-0.066},{"k":15,"t":0.2625,"v":-0.095},{"k":15,"t":0.275,"v":-0.063},{"k":15,"t":0.2875,"v":-0.06},{"k":15,"t":0.3,"v":-0.064},{"k":15,"t":0.3125,"v":-0.061},{"k":15,"t":0.325,"v":-0.065},{"k":15,"t":0.3375,"v":-0.062},{"k":15,"t":0.35,"v":-0.079},{"k":15,"t":0.3625,"v":-0.063},{"k":15,"t":0.375,"v":-0.06},{"k":15,"t":0.3875,"v":-0.064},{"k":15,"t":0.4,"v":-0.061},{"k":15,"t":0.4125,"v":-0.066},{"k":15,"t":0.425,"v":-0.063},{"k":15,"t":0.4375,"v":-0.059},{"k":15,"t":0.45,"v":-0.064},{"k":15,"t":0.4625,"v":-0.061},{"k":15,"t":0.475,"v":-0.065},{"k":15,"t":0.4875,"v":-0.062},{"k":15,"t":0.5,"v":-0.058},{"k":15,"t":0.5125,"v":-0.063},{"k":15,"t":0.525,"v":-0.06},{"k":15,"t":0.5375,"v":-0.064},{"k":15,"t":0.55,"v":-0.061},{"k":15,"t":0.5625,"v":-0.059},{"k":15,"t":0.575,"v":-0.063},{"k":15,"t":0.5875,"v":-0.06},{"k":15,"t":0.6,"v":-0.062},
      {"k":15,"t":0.6005,"v":-0.052},{"k":15,"t":0.605,"v":-0.035},{"k":15,"t":0.61,"v":-0.021},{"k":15,"t":0.62,"v":-0.014},{"k":15,"t":0.635,"v":-0.011},{"k":15,"t":0.65,"v":-0.016},{"k":15,"t":0.665,"v":-0.013},{"k":15,"t":0.68,"v":-0.017},{"k":15,"t":0.7,"v":-0.012},

      {"k":16,"t":0,"v":0.001},{"k":16,"t":0.013,"v":-0.001},{"k":16,"t":0.026,"v":-0.003},{"k":16,"t":0.038,"v":-0.002},{"k":16,"t":0.04,"v":-0.022},{"k":16,"t":0.047,"v":-0.021},{"k":16,"t":0.049,"v":0.002},{"k":16,"t":0.062,"v":-0.015},{"k":16,"t":0.075,"v":-0.013},{"k":16,"t":0.088,"v":-0.019},{"k":16,"t":0.0999,"v":-0.021},
      {"k":16,"t":0.1,"v":-0.108},{"k":16,"t":0.101,"v":-0.089},
      {"k":16,"t":0.1125,"v":-0.086},{"k":16,"t":0.125,"v":-0.083},{"k":16,"t":0.1375,"v":-0.099},{"k":16,"t":0.15,"v":-0.087},{"k":16,"t":0.1625,"v":-0.084},{"k":16,"t":0.175,"v":-0.088},{"k":16,"t":0.1875,"v":-0.085},{"k":16,"t":0.2,"v":-0.082},{"k":16,"t":0.2125,"v":-0.087},{"k":16,"t":0.225,"v":-0.084},{"k":16,"t":0.2375,"v":-0.088},{"k":16,"t":0.25,"v":-0.085},{"k":16,"t":0.2625,"v":-0.098},{"k":16,"t":0.275,"v":-0.086},{"k":16,"t":0.2875,"v":-0.083},{"k":16,"t":0.3,"v":-0.087},{"k":16,"t":0.3125,"v":-0.084},{"k":16,"t":0.325,"v":-0.09},{"k":16,"t":0.3375,"v":-0.086},{"k":16,"t":0.35,"v":-0.089},{"k":16,"t":0.3625,"v":-0.085},{"k":16,"t":0.375,"v":-0.088},{"k":16,"t":0.3875,"v":-0.084},{"k":16,"t":0.4,"v":-0.087},{"k":16,"t":0.4125,"v":-0.09},{"k":16,"t":0.425,"v":-0.086},{"k":16,"t":0.4375,"v":-0.081},{"k":16,"t":0.45,"v":-0.094},{"k":16,"t":0.4625,"v":-0.087},{"k":16,"t":0.475,"v":-0.084},{"k":16,"t":0.4875,"v":-0.088},{"k":16,"t":0.5,"v":-0.085},{"k":16,"t":0.5125,"v":-0.089},{"k":16,"t":0.525,"v":-0.086},{"k":16,"t":0.5375,"v":-0.083},{"k":16,"t":0.55,"v":-0.087},{"k":16,"t":0.5625,"v":-0.084},{"k":16,"t":0.575,"v":-0.081},{"k":16,"t":0.5875,"v":-0.085},{"k":16,"t":0.6,"v":-0.083},
      {"k":16,"t":0.6005,"v":-0.072},{"k":16,"t":0.605,"v":-0.045},{"k":16,"t":0.61,"v":-0.026},{"k":16,"t":0.62,"v":-0.016},{"k":16,"t":0.635,"v":-0.013},{"k":16,"t":0.65,"v":-0.017},{"k":16,"t":0.665,"v":-0.014},{"k":16,"t":0.68,"v":-0.011},{"k":16,"t":0.7,"v":-0.015},

      {"k":17,"t":0,"v":-0.003},{"k":17,"t":0.013,"v":0.003},{"k":17,"t":0.026,"v":0.001},{"k":17,"t":0.038,"v":0.002},{"k":17,"t":0.04,"v":-0.02},{"k":17,"t":0.047,"v":-0.019},{"k":17,"t":0.049,"v":-0.002},{"k":17,"t":0.062,"v":0.001},{"k":17,"t":0.075,"v":-0.003},{"k":17,"t":0.088,"v":0.003},{"k":17,"t":0.0999,"v":-0.001},
      {"k":17,"t":0.1,"v":-0.128},{"k":17,"t":0.101,"v":-0.107},
      {"k":17,"t":0.1125,"v":-0.105},{"k":17,"t":0.125,"v":-0.101},{"k":17,"t":0.1375,"v":-0.106},{"k":17,"t":0.15,"v":-0.103},{"k":17,"t":0.1625,"v":-0.107},{"k":17,"t":0.175,"v":-0.104},{"k":17,"t":0.1875,"v":-0.108},{"k":17,"t":0.2,"v":-0.103},{"k":17,"t":0.2125,"v":-0.106},{"k":17,"t":0.225,"v":-0.11},{"k":17,"t":0.2375,"v":-0.128},{"k":17,"t":0.25,"v":-0.107},{"k":17,"t":0.2625,"v":-0.104},{"k":17,"t":0.275,"v":-0.108},{"k":17,"t":0.2875,"v":-0.105},{"k":17,"t":0.3,"v":-0.109},{"k":17,"t":0.3125,"v":-0.106},{"k":17,"t":0.325,"v":-0.11},{"k":17,"t":0.3375,"v":-0.107},{"k":17,"t":0.35,"v":-0.104},{"k":17,"t":0.3625,"v":-0.108},{"k":17,"t":0.375,"v":-0.123},{"k":17,"t":0.3875,"v":-0.106},{"k":17,"t":0.4,"v":-0.109},{"k":17,"t":0.4125,"v":-0.112},{"k":17,"t":0.425,"v":-0.108},{"k":17,"t":0.4375,"v":-0.113},{"k":17,"t":0.45,"v":-0.11},{"k":17,"t":0.4625,"v":-0.115},{"k":17,"t":0.475,"v":-0.111},{"k":17,"t":0.4875,"v":-0.116},{"k":17,"t":0.5,"v":-0.112},{"k":17,"t":0.5125,"v":-0.134},{"k":17,"t":0.525,"v":-0.114},{"k":17,"t":0.5375,"v":-0.11},{"k":17,"t":0.55,"v":-0.113},{"k":17,"t":0.5625,"v":-0.109},{"k":17,"t":0.575,"v":-0.127},{"k":17,"t":0.5875,"v":-0.111},{"k":17,"t":0.6,"v":-0.113},
      {"k":17,"t":0.6005,"v":-0.098},{"k":17,"t":0.605,"v":-0.062},{"k":17,"t":0.61,"v":-0.032},{"k":17,"t":0.62,"v":-0.019},{"k":17,"t":0.635,"v":-0.015},{"k":17,"t":0.65,"v":-0.012},{"k":17,"t":0.665,"v":-0.018},{"k":17,"t":0.68,"v":-0.014},{"k":17,"t":0.7,"v":-0.016}
    ]
  },
  "layer": [
    {
      "mark": {"type": "line", "color": "black", "strokeWidth": 1.9, "strokeJoin": "miter"},
      "encoding": {
        "detail": {"field": "k", "type": "nominal"},
        "x": {
          "field": "t",
          "type": "quantitative",
          "scale": {"domain": [0, 0.7], "nice": false, "zero": false},
          "axis": {
            "title": "t [s]",
            "values": [0.1, 0.6],
            "format": ".1f",
            "tickSize": -6,
            "labelPadding": 15,
            "labelFontSize": 22,
            "titleFontSize": 24,
            "titlePadding": 13
          }
        },
        "y": {
          "field": "v",
          "type": "quantitative",
          "scale": {"domain": [-0.1875, 0.3125], "nice": false, "zero": false},
          "axis": {
            "title": "I [nA]",
            "values": [-0.1, 0, 0.1, 0.2, 0.3],
            "labelExpr": "datum.value == 0 ? '0' : (datum.value < 0 ? '-' : '') + format(abs(datum.value), '.1f')",
            "tickSize": -6,
            "labelAlign": "center",
            "labelPadding": 43,
            "labelFontSize": 22,
            "titleFontSize": 24,
            "titleX": -69,
            "titleY": 235,
            "titleAlign": "center",
            "titleBaseline": "middle"
          }
        }
      }
    },
    {
      "transform": [{"filter": "datum.k == 1 && datum.t == 0"}],
      "mark": {"type": "point", "opacity": 0},
      "encoding": {
        "x": {
          "field": "t",
          "type": "quantitative",
          "axis": {
            "orient": "top",
            "title": "25 °C\u00a0\u00a0Activation",
            "domain": false,
            "ticks": false,
            "labels": false,
            "titleFontSize": 19,
            "titleColor": "black",
            "titleAnchor": "end",
            "titleAlign": "right",
            "titleX": 602,
            "titleY": 5,
            "titleBaseline": "alphabetic"
          }
        },
        "y": {
          "field": "v",
          "type": "quantitative",
          "axis": {
            "orient": "right",
            "title": "BBP Channelpedia ID 29148 rep 3",
            "domain": false,
            "ticks": false,
            "labels": false,
            "titleFontSize": 14.4,
            "titleColor": "black",
            "titleAngle": 270,
            "titleX": 11,
            "titleY": 235,
            "titleAlign": "center",
            "titleBaseline": "middle"
          }
        }
      }
    }
  ],
  "resolve": {"axis": {"x": "independent", "y": "independent"}}
}
